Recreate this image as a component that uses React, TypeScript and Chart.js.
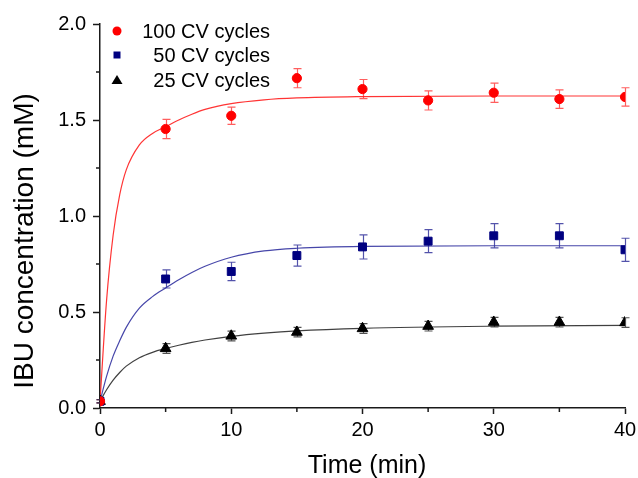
import { useEffect, useRef } from 'react';
import { Chart, registerables } from 'chart.js';

Chart.register(...registerables);

// ---- data ----
const times = [0, 5, 10, 15, 20, 25, 30, 35, 40];
const cv100 = [0.035, 1.453, 1.522, 1.718, 1.661, 1.602, 1.642, 1.609, 1.62];
const cv100Err = [0.008, 0.05, 0.045, 0.05, 0.05, 0.05, 0.05, 0.048, 0.048];
const cv50 = [0.035, 0.672, 0.711, 0.794, 0.839, 0.869, 0.897, 0.897, 0.824];
const cv50Err = [0.008, 0.047, 0.048, 0.055, 0.063, 0.06, 0.063, 0.063, 0.06];
const cv25 = [0.035, 0.31, 0.375, 0.395, 0.414, 0.426, 0.447, 0.447, 0.445];
const cv25Err = [0.008, 0.025, 0.025, 0.025, 0.025, 0.025, 0.025, 0.025, 0.025];

// fitted curves
const fitTimes = [0, 0.5, 1, 1.5, 2, 3, 4, 5, 6, 7, 8, 10, 12.5, 15, 20, 30, 40];
const fit100 = [0.035, 0.56, 0.9, 1.11, 1.24, 1.37, 1.43, 1.465, 1.5, 1.53, 1.555, 1.585, 1.605, 1.615, 1.622, 1.625, 1.625];
const fit50 = [0.035, 0.165, 0.27, 0.35, 0.42, 0.52, 0.58, 0.625, 0.668, 0.706, 0.738, 0.785, 0.818, 0.832, 0.842, 0.845, 0.845];
const fit25 = [0.035, 0.095, 0.145, 0.185, 0.218, 0.262, 0.29, 0.31, 0.327, 0.342, 0.354, 0.373, 0.39, 0.402, 0.415, 0.426, 0.43];

const seriesLabels = ['100 CV cycles', '50 CV cycles', '25 CV cycles'];
const xTickLabels = ['0', '10', '20', '30', '40'];
const yTickLabels = ['0.0', '0.5', '1.0', '1.5', '2.0'];
const xTitle = 'Time (min)';
const yTitle = 'IBU concentration (mM)';

const FONT = '"Liberation Sans", Arial, Helvetica, sans-serif';
const AXIS = '#1a1a1a';

const pts = (xs: number[], ys: number[]) => xs.map((x, i) => ({ x, y: ys[i] }));

export default function App() {
  const ref = useRef<HTMLCanvasElement>(null);

  useEffect(() => {
    const canvas = ref.current;
    if (!canvas) return;

    const errSets = [
      { vals: cv100, err: cv100Err, color: 'rgba(255,40,40,0.75)' },
      { vals: cv50, err: cv50Err, color: 'rgba(40,40,150,0.8)' },
      { vals: cv25, err: cv25Err, color: 'rgba(40,40,40,0.8)' },
    ];

    const errorBars = {
      id: 'errorBars',
      beforeDatasetsDraw(chart: any) {
        const { ctx, scales } = chart;
        const xs = scales.x;
        const ys = scales.y;
        ctx.save();
        ctx.lineWidth = 1.2;
        errSets.forEach((s) => {
          ctx.strokeStyle = s.color;
          times.forEach((t, i) => {
            const px = Math.round(xs.getPixelForValue(t)) + 0.5;
            const top = ys.getPixelForValue(s.vals[i] + s.err[i]);
            const bot = ys.getPixelForValue(s.vals[i] - s.err[i]);
            ctx.beginPath();
            ctx.moveTo(px, top);
            ctx.lineTo(px, bot);
            ctx.moveTo(px - 4, top);
            ctx.lineTo(px + 4, top);
            ctx.moveTo(px - 4, bot);
            ctx.lineTo(px + 4, bot);
            ctx.stroke();
          });
        });
        ctx.restore();
      },
    };

    const minorTicks = {
      id: 'minorTicks',
      afterDraw(chart: any) {
        const { ctx, scales } = chart;
        const xs = scales.x;
        const ys = scales.y;
        ctx.save();
        ctx.strokeStyle = AXIS;
        ctx.lineWidth = 1.5;
        xs.ticks.forEach((t: any) => {
          if (t.value % 10 !== 0) {
            const px = xs.getPixelForValue(t.value);
            ctx.beginPath();
            ctx.moveTo(px, xs.top);
            ctx.lineTo(px, xs.top + 4);
            ctx.stroke();
          }
        });
        ys.ticks.forEach((t: any) => {
          if (Math.abs(t.value * 2 - Math.round(t.value * 2)) > 1e-9) {
            const py = ys.getPixelForValue(t.value);
            ctx.beginPath();
            ctx.moveTo(ys.right - 4, py);
            ctx.lineTo(ys.right, py);
            ctx.stroke();
          }
        });
        ctx.restore();
      },
    };

    const titles = {
      id: 'titles',
      afterDraw(chart: any) {
        const { ctx } = chart;
        ctx.save();
        ctx.fillStyle = '#000';
        ctx.textAlign = 'center';
        ctx.textBaseline = 'alphabetic';
        ctx.font = `25px ${FONT}`;
        ctx.fillText(xTitle, 367, 473);
        ctx.translate(33, 241);
        ctx.rotate(-Math.PI / 2);
        ctx.font = `28px ${FONT}`;
        ctx.fillText(yTitle, 0, 0);
        ctx.restore();
      },
    };

    const legend = {
      id: 'customLegend',
      afterDraw(chart: any) {
        const { ctx } = chart;
        const rows = [31, 55, 80];
        const mx = 117;
        ctx.save();
        chart.data.datasets.slice(0, 3).forEach((ds: any, i: number) => {
          const y = rows[i];
          ctx.fillStyle = ds.backgroundColor;
          ctx.beginPath();
          if (i === 0) {
            ctx.arc(mx, y, 4.5, 0, Math.PI * 2);
          } else if (i === 1) {
            ctx.rect(mx - 3.5, y - 3.5, 7, 7);
          } else {
            ctx.moveTo(mx, y - 5);
            ctx.lineTo(mx + 5.5, y + 4);
            ctx.lineTo(mx - 5.5, y + 4);
            ctx.closePath();
          }
          ctx.fill();
          ctx.fillStyle = '#000';
          ctx.font = `20px ${FONT}`;
          ctx.textAlign = 'right';
          ctx.textBaseline = 'middle';
          ctx.fillText(ds.label, 270, y + 1);
        });
        ctx.restore();
      },
    };

    const chart = new Chart(canvas, {
      type: 'scatter',
      data: {
        datasets: [
          {
            label: seriesLabels[0],
            data: pts(times, cv100),
            backgroundColor: '#ff0000',
            borderColor: '#ff0000',
            borderWidth: 1,
            pointStyle: 'circle',
            pointRadius: 4.6,
            showLine: false,
          },
          {
            label: seriesLabels[1],
            data: pts(times, cv50),
            backgroundColor: '#000080',
            borderColor: '#000080',
            borderWidth: 1,
            pointStyle: 'rect',
            pointRadius: 5.6,
            showLine: false,
          },
          {
            label: seriesLabels[2],
            data: pts(times, cv25),
            backgroundColor: '#000000',
            borderColor: '#000000',
            borderWidth: 1,
            pointStyle: 'triangle',
            pointRadius: 6.2,
            showLine: false,
          },
          {
            label: 'fit100',
            data: pts(fitTimes, fit100),
            showLine: true,
            borderColor: 'rgba(255,30,30,0.9)',
            borderWidth: 1.2,
            pointRadius: 0,
            cubicInterpolationMode: 'monotone',
          },
          {
            label: 'fit50',
            data: pts(fitTimes, fit50),
            showLine: true,
            borderColor: 'rgba(50,50,160,0.9)',
            borderWidth: 1.2,
            pointRadius: 0,
            cubicInterpolationMode: 'monotone',
          },
          {
            label: 'fit25',
            data: pts(fitTimes, fit25),
            showLine: true,
            borderColor: 'rgba(30,30,30,0.85)',
            borderWidth: 1.2,
            pointRadius: 0,
            cubicInterpolationMode: 'monotone',
          },
        ],
      } as any,
      options: {
        responsive: false,
        animation: false,
        devicePixelRatio: 1,
        layout: { padding: { left: 0, top: 24, right: 13, bottom: 0 } },
        plugins: {
          legend: { display: false },
          tooltip: { enabled: false },
        },
        scales: {
          x: {
            type: 'linear',
            min: 0,
            max: 40,
            afterFit: (s: any) => {
              s.height = 70;
              s.paddingLeft = 0;
              s.paddingRight = 0;
            },
            ticks: {
              stepSize: 5,
              autoSkip: false,
              maxRotation: 0,
              padding: 4,
              color: '#000',
              font: { family: FONT, size: 20 },
              callback: (v: any) => {
                const i = xTickLabels.indexOf(String(v));
                return i >= 0 ? xTickLabels[i] : '';
              },
            },
            grid: {
              drawOnChartArea: false,
              drawTicks: true,
              tickLength: 6,
              tickWidth: 1.5,
              tickColor: (c: any) => (c.tick && c.tick.value % 10 === 0 ? AXIS : 'rgba(0,0,0,0)'),
            },
            border: { display: true, color: AXIS, width: 1.5 },
          },
          y: {
            type: 'linear',
            min: 0,
            max: 2,
            afterFit: (s: any) => {
              s.width = 100;
              s.paddingTop = 0;
              s.paddingBottom = 0;
            },
            ticks: {
              stepSize: 0.25,
              autoSkip: false,
              padding: 7,
              color: '#000',
              font: { family: FONT, size: 20 },
              callback: (v: any) => {
                const n = Number(v);
                if (Math.abs(n * 2 - Math.round(n * 2)) > 1e-9) return '';
                return yTickLabels[Math.round(n * 2)] ?? '';
              },
            },
            grid: {
              drawOnChartArea: false,
              drawTicks: true,
              tickLength: 7,
              tickWidth: 1.5,
              tickColor: (c: any) =>
                c.tick && Math.abs(c.tick.value * 2 - Math.round(c.tick.value * 2)) < 1e-9 ? AXIS : 'rgba(0,0,0,0)',
            },
            border: { display: true, color: AXIS, width: 1.5 },
          },
        },
      } as any,
      plugins: [errorBars, minorTicks, titles, legend],
    });

    return () => chart.destroy();
  }, []);

  return (
    <div style={{ position: 'fixed', left: 0, top: 0, width: 638, height: 478, background: '#fff' }}>
      <canvas ref={ref} width={638} height={478} style={{ display: 'block', width: 638, height: 478 }} />
    </div>
  );
}
